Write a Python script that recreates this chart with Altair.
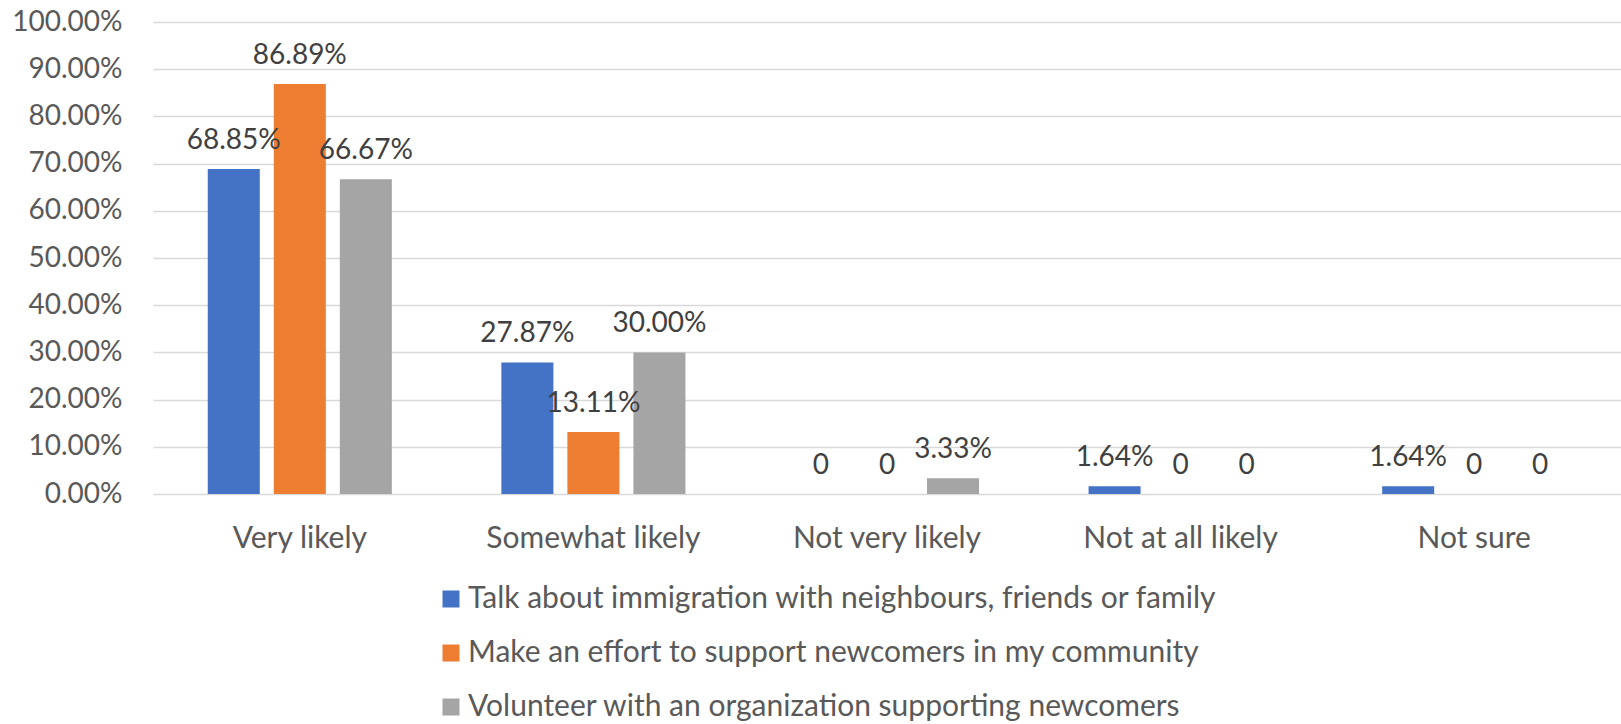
import altair as alt
import pandas as pd

categories = ["Very likely", "Somewhat likely", "Not very likely", "Not at all likely", "Not sure"]
series = [
    "Talk about immigration with neighbours, friends or family",
    "Make an effort to support newcomers in my community",
    "Volunteer with an organization supporting newcomers",
]
talk = [68.85, 27.87, 0.0, 1.64, 1.64]
effort = [86.89, 13.11, 0.0, 0.0, 0.0]
volunteer = [66.67, 30.00, 3.33, 0.0, 0.0]
colors = ["#4472C4", "#ED7D31", "#A5A5A5"]
y_ticks = [0.0, 0.1, 0.2, 0.3, 0.4, 0.5, 0.6, 0.7, 0.8, 0.9, 1.0]

rows = []
for s, vals in zip(series, [talk, effort, volunteer]):
    for c, v in zip(categories, vals):
        rows.append({
            "category": c,
            "series": s,
            "value": v / 100.0,
            "label": "0" if v == 0 else f"{v:.2f}%",
        })
df = pd.DataFrame(rows)

FONT = "Lato"

x_enc = alt.X(
    "category:N",
    sort=categories,
    scale=alt.Scale(paddingInner=0.373, paddingOuter=0.1865),
    axis=alt.Axis(
        title=None,
        labelAngle=0,
        labelFontSize=30,
        labelFont=FONT,
        labelColor="#595959",
        labelBaseline="alphabetic",
        labelPadding=53,
        labelLimit=0,
        ticks=False,
        tickSize=0,
        domain=False,
    ),
)
xoff = alt.XOffset(
    "series:N",
    sort=series,
    scale=alt.Scale(domain=series, paddingInner=0.212, paddingOuter=0),
)
y_enc = alt.Y(
    "value:Q",
    scale=alt.Scale(domain=[0, 1], nice=False, zero=True),
    axis=alt.Axis(
        title=None,
        values=y_ticks,
        format=".2%",
        labelFontSize=28,
        labelFont=FONT,
        labelColor="#595959",
        labelPadding=31,
        ticks=False,
        tickSize=0,
        domain=False,
        grid=True,
        gridColor="#D9D9D9",
        gridWidth=1.5,
    ),
)

bars = alt.Chart(df).mark_bar().encode(
    x=x_enc,
    xOffset=xoff,
    y=y_enc,
    color=alt.Color(
        "series:N",
        sort=series,
        scale=alt.Scale(domain=series, range=colors),
        legend=alt.Legend(
            title=None,
            orient="none",
            legendX=283,
            legendY=562,
            direction="vertical",
            symbolType="square",
            symbolSize=289,
            symbolStrokeWidth=0,
            labelFontSize=30,
            labelFont=FONT,
            labelColor="#595959",
            labelOffset=2,
            rowPadding=24,
            labelLimit=1200,
            padding=0,
        ),
    ),
)

labels = alt.Chart(df).mark_text(
    baseline="alphabetic",
    align="center",
    dy=-20,
    fontSize=28,
    font=FONT,
    color="#404040",
).encode(
    x=alt.X("category:N", sort=categories),
    xOffset=alt.XOffset("series:N", sort=series),
    y=alt.Y("value:Q"),
    text="label:N",
)

chart = (
    alt.layer(bars, labels)
    .properties(
        width=1468,
        height=472,
        padding={"left": 153, "top": 22, "right": 0, "bottom": 230},
        autosize=alt.AutoSizeParams(type="none"),
        background="white",
    )
    .configure_view(stroke=None)
)

chart.save("out.html", embed_options={"renderer": "svg", "actions": False})
